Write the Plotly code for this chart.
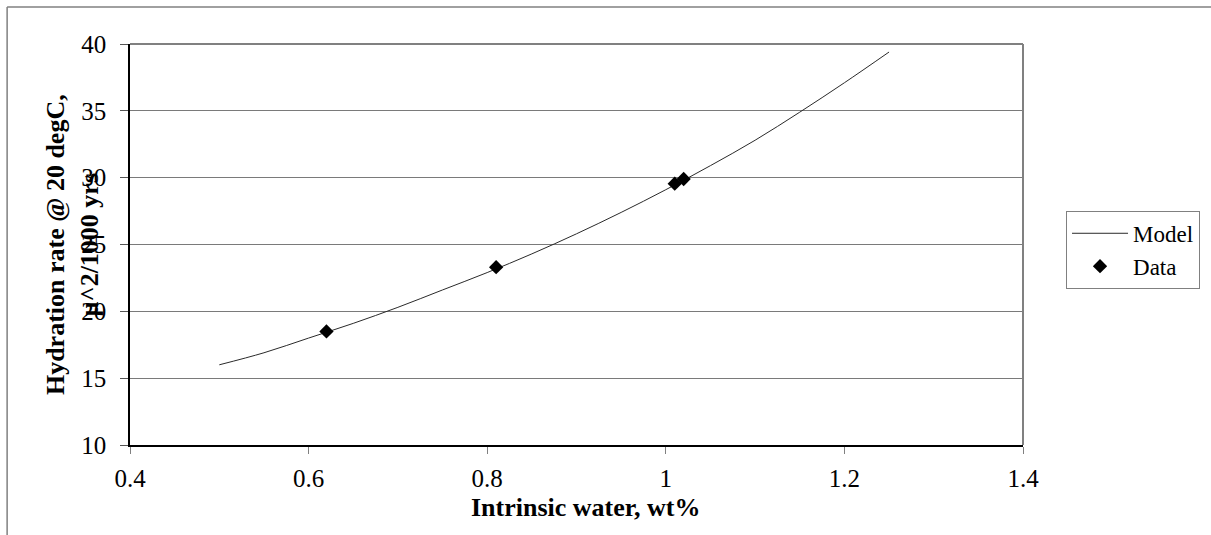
import plotly.graph_objects as go

# Model curve
model_x = [0.50, 0.55, 0.60, 0.65, 0.70, 0.75, 0.80, 0.85, 0.90, 0.95, 1.00, 1.05, 1.10, 1.15, 1.20, 1.25]
model_y = [16.0, 16.9, 18.0, 19.1, 20.3, 21.6, 22.9, 24.3, 25.8, 27.4, 29.1, 30.9, 32.8, 34.9, 37.1, 39.4]

# Measured data
data_x = [0.62, 0.81, 1.01, 1.02]
data_y = [18.5, 23.3, 29.55, 29.9]

x_ticks = [0.4, 0.6, 0.8, 1.0, 1.2, 1.4]
x_labels = ["0.4", "0.6", "0.8", "1", "1.2", "1.4"]
y_ticks = [10, 15, 20, 25, 30, 35, 40]

FONT = "Liberation Serif, Times New Roman, serif"

fig = go.Figure()
fig.add_trace(go.Scatter(x=model_x, y=model_y, mode="lines", name="Model",
                         line=dict(color="#2a2a2a", width=1, shape="spline")))
fig.add_trace(go.Scatter(x=data_x, y=data_y, mode="markers", name="Data",
                         marker=dict(symbol="diamond", size=11, color="black",
                                     line=dict(width=0))))

fig.update_layout(
    width=1211, height=535,
    margin=dict(l=130, r=187, t=44, b=90),
    paper_bgcolor="white", plot_bgcolor="white",
    font=dict(family=FONT, size=24, color="black"),
    showlegend=True,
    legend=dict(x=1.047, y=0.584, xanchor="left", yanchor="top",
                bordercolor="#808080", borderwidth=1, bgcolor="white",
                font=dict(family=FONT, size=23), itemwidth=56,
                tracegroupgap=0),
    xaxis=dict(range=[0.4, 1.4], tickvals=x_ticks, ticktext=x_labels,
               showgrid=False, zeroline=False, showline=True,
               linecolor="black", linewidth=1.5, ticks="outside", ticklen=7,
               tickcolor="#808080", ticklabelstandoff=3, tickfont=dict(size=25)),
    yaxis=dict(range=[10, 40], tickvals=y_ticks, showgrid=True,
               gridcolor="#7a7a7a", gridwidth=1, zeroline=False,
               showline=True, linecolor="black", linewidth=1.5,
               ticks="outside", ticklen=8, tickcolor="#555",
               ticklabelstandoff=9, tickfont=dict(size=25)),
    annotations=[
        dict(text="<b>Hydration rate @ 20 degC,<br>µ^2/1000 yrs</b>",
             x=-0.0643, y=0.5, xref="paper", yref="paper",
             textangle=-90, showarrow=False, xanchor="center", yanchor="middle",
             font=dict(family=FONT, size=26, color="black")),
        dict(text="<b>Intrinsic water, wt%</b>",
             x=0.51, y=-0.157, xref="paper", yref="paper",
             showarrow=False, xanchor="center", yanchor="middle",
             font=dict(family=FONT, size=26, color="black")),
    ],
    shapes=[
        dict(type="line", xref="paper", yref="paper", x0=1, x1=1, y0=0, y1=1,
             line=dict(color="#808080", width=2)),
        dict(type="line", xref="paper", yref="paper", x0=0, x1=1, y0=1, y1=1,
             line=dict(color="#808080", width=2)),
        dict(type="line", xref="paper", yref="paper", x0=-0.1376, x1=1.25,
             y0=1.0923, y1=1.0923, line=dict(color="#808080", width=1.5)),
        dict(type="line", xref="paper", yref="paper", x0=-0.1376, x1=-0.1376,
             y0=1.0923, y1=-0.25, line=dict(color="#808080", width=1.5)),
    ],
)

fig.write_html("out.html", config={"displayModeBar": False},
               post_script="document.body.style.margin='0';document.body.style.overflow='hidden';")
